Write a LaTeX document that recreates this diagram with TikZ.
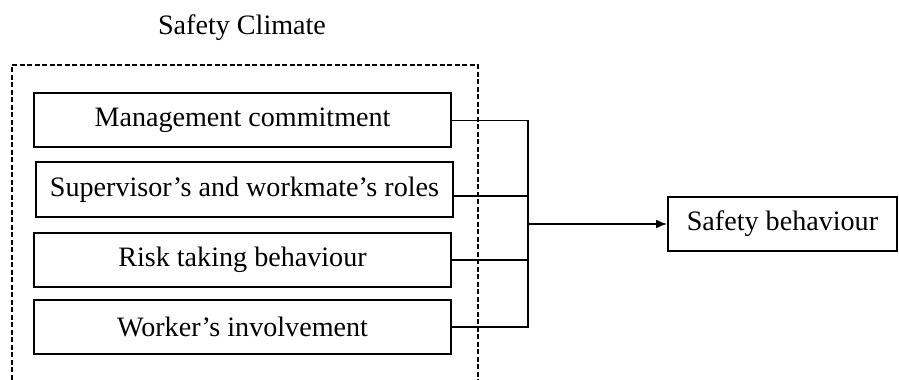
\documentclass[tikz,border=0pt]{standalone}
\usepackage{fontspec}
\setmainfont{Liberation Serif}
\usetikzlibrary{arrows.meta}
\tikzset{
	factor/.style={draw, line width=0.4mm, minimum width=8.34cm, minimum height=1.08cm, inner sep=0pt, font=\fontsize{16}{19}\selectfont},
	link/.style={line width=0.3mm},
}

\begin{document}
\begin{tikzpicture}
		%%%%% START %%%%%
		
		\useasboundingbox (0, 0) rectangle (17.98, -7.6);
		
		\node[font=\fontsize{16}{19}\selectfont] (title) at (4.84, -0.56) {Safety Climate};
		\draw[line width=0.25mm, dash pattern=on 0.1cm off 0.05cm] (0.24, -7.6) -- (0.24, -1.3) -- (9.56, -1.3) -- (9.56, -7.6);
		
		\node[factor] (mgmt) at (4.85, -2.41) {Management commitment};
		\node[factor, minimum height=1.1cm] (supv) at (4.89, -3.79) {Supervisor's and workmate's roles};
		\node[factor] (risk) at (4.85, -5.20) {Risk taking behaviour};
		\node[factor] (work) at (4.85, -6.54) {Worker's involvement};
		
		\node[factor, minimum width=4.58cm] (behav) at (15.65, -4.48) {Safety behaviour};
		
		\coordinate (join) at (10.56, -4.48);
		
		\draw[link] (mgmt.east) -| (join);
		\draw[link] (work.east) -| (join);
		\draw[link] ([yshift=-0.13cm]supv.east) -- ([yshift=-0.13cm]supv.east -| join);
		\draw[link] (risk.east) -- (risk.east -| join);
		\draw[link, -{Latex[length=2.2mm, width=1.8mm]}] (join) -- (behav.west);
		
		%%%%% END %%%%%
	\end{tikzpicture}
\end{document}
